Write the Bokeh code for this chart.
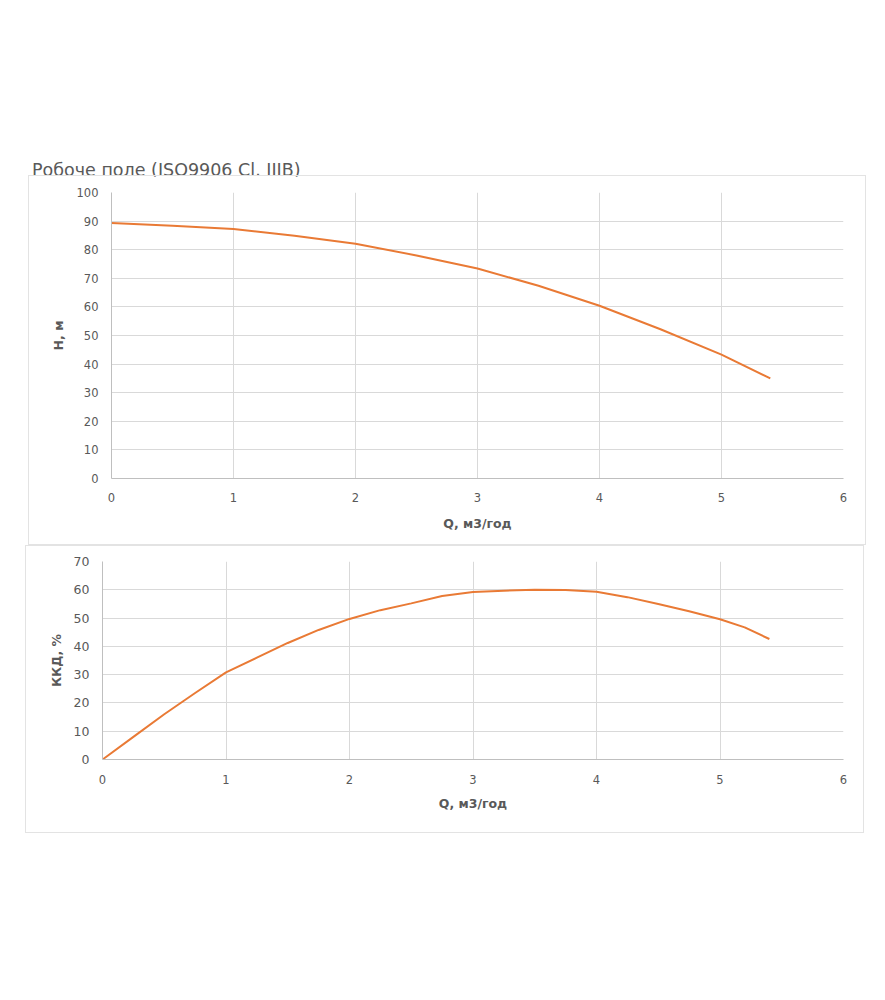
from bokeh.plotting import figure
from bokeh.models import Div, SingleIntervalTicker, Range1d
from bokeh.layouts import column
from bokeh.embed import file_html
from bokeh.resources import INLINE

# ---- data ----
title_text = "Робоче поле (ISO9906 Cl. IIIB)"
x_label = "Q, м3/год"
h_label = "H, м"
eff_label = "ККД, %"

q_head = [0, 0.5, 1, 1.5, 2, 2.5, 3, 3.5, 4, 4.5, 5, 5.4]
head = [89.3, 88.4, 87.2, 84.9, 82.1, 78.0, 73.4, 67.4, 60.4, 52.2, 43.3, 35.0]

q_eff = [0, 0.25, 0.5, 0.75, 1, 1.25, 1.5, 1.75, 2, 2.25, 2.5, 2.75, 3, 3.25,
         3.5, 3.75, 4, 4.25, 4.5, 4.75, 5, 5.2, 5.4]
eff = [0, 8, 16, 23.5, 30.8, 36, 41.2, 45.8, 49.7, 52.8, 55.2, 57.8, 59.2, 59.7,
       60, 59.9, 59.3, 57.4, 55, 52.4, 49.6, 46.7, 42.6]

LINE = "#E97A35"
GRID = "#d9d9d9"
AXIS = "#bfbfbf"
TXT = "#595959"
FONT = "DejaVu Sans"


def style(p, ystep):
    p.xaxis.ticker = SingleIntervalTicker(interval=1)
    p.yaxis.ticker = SingleIntervalTicker(interval=ystep)
    p.xgrid.ticker = SingleIntervalTicker(interval=1)
    p.ygrid.ticker = SingleIntervalTicker(interval=ystep)
    for ax in (p.xaxis[0], p.yaxis[0]):
        ax.major_tick_line_color = None
        ax.minor_tick_line_color = None
        ax.major_tick_out = 0
        ax.major_tick_in = 0
        ax.minor_tick_out = 0
        ax.axis_line_color = AXIS
        ax.axis_line_width = 1
        ax.major_label_text_font = FONT
        ax.major_label_text_font_size = "11.5px"
        ax.major_label_text_color = TXT
        ax.axis_label_text_font = FONT
        ax.axis_label_text_font_size = "12.5px"
        ax.axis_label_text_font_style = "bold"
        ax.axis_label_text_color = TXT
    p.xaxis.major_label_standoff = 14
    p.yaxis.major_label_standoff = 13
    p.xaxis.axis_label_standoff = 11
    p.yaxis.axis_label_standoff = 8
    p.xgrid.grid_line_color = GRID
    p.ygrid.grid_line_color = GRID
    p.outline_line_color = None
    p.background_fill_color = "white"
    p.border_fill_color = "white"


title_div = Div(text=title_text, width=420, height=15, margin=(160, 0, 0, 32),
                styles={"font-family": "DejaVu Sans", "font-size": "17.5px",
                        "color": "#595959", "line-height": "20px",
                        "white-space": "nowrap"})

p1 = figure(width=838, height=370, output_backend="svg", toolbar_location=None,
            x_range=Range1d(0, 6), y_range=Range1d(0, 100),
            min_border_left=82, min_border_right=24, min_border_top=16,
            min_border_bottom=68, margin=(0, 0, 0, 28),
            styles={"border": "1px solid #e3e3e3"},
            x_axis_label=x_label, y_axis_label=h_label)
style(p1, 10)
p1.line(q_head, head, line_color=LINE, line_width=2)

p2 = figure(width=839, height=288, output_backend="svg", toolbar_location=None,
            x_range=Range1d(0, 6), y_range=Range1d(0, 70),
            min_border_left=76, min_border_right=22, min_border_top=15,
            min_border_bottom=75, margin=(0, 0, 0, 25),
            styles={"border": "1px solid #e3e3e3"},
            x_axis_label=x_label, y_axis_label=eff_label)
style(p2, 10)
p2.yaxis.major_label_text_font_size = "12.5px"
p2.yaxis.axis_label_standoff = 7
p2.xaxis.major_label_standoff = 15
p2.xaxis.axis_label_standoff = 9
p2.line(q_eff, eff, line_color=LINE, line_width=2)

layout = column(title_div, column(p1), column(p2), spacing=0)

open("out.html", "w").write(file_html(layout, INLINE))
